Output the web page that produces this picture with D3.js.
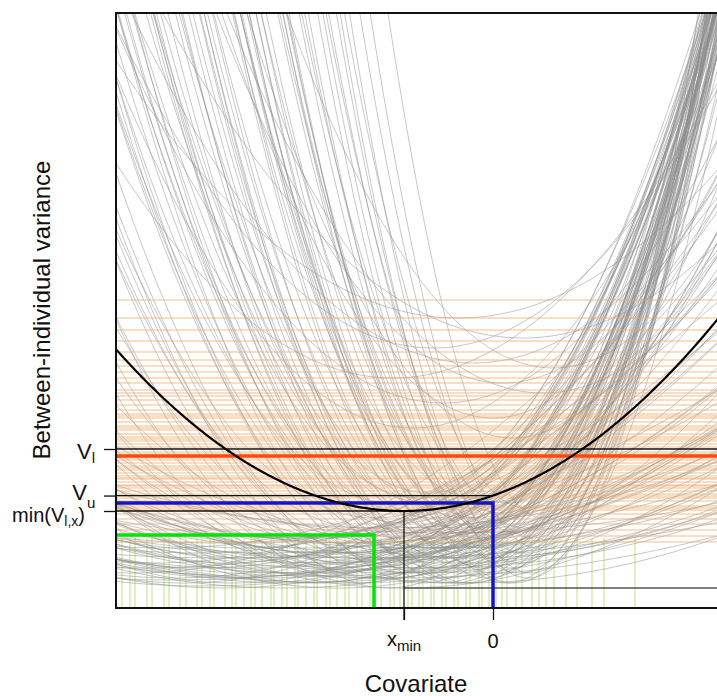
<!DOCTYPE html>
<html>
<head>
<meta charset="utf-8">
<script src="https://cdn.jsdelivr.net/npm/d3@7"></script>
<style>
  html, body { margin: 0; padding: 0; background: #fff; }
  svg { display: block; font-family: "Liberation Sans", Arial, sans-serif; }
</style>
</head>
<body>
<svg id="chart" width="717" height="696"></svg>
<script>
// ---- Data -------------------------------------------------------------
// Posterior draws of the variance function V(x) = vmin + k * (x - xvertex)^2,
// stored as [xvertex, vmin, k].
const broadDraws = [
  [-1.10, 0.25, 0.50], [-0.95, 0.40, 0.55], [-1.20, 0.10, 0.48], [-0.80, 0.55, 0.60],
  [-0.70, 0.30, 0.62], [-0.85, 0.15, 0.58], [-0.60, 0.70, 0.68], [-0.55, 0.20, 0.70],
  [-0.50, 0.45, 0.74], [-0.40, 0.05, 0.78], [-0.35, 0.60, 0.82], [-0.30, 0.35, 0.86],
  [-0.25, 0.80, 0.90], [-0.20, 0.25, 0.95], [-0.15, 0.50, 1.00], [-0.05, 0.10, 1.05],
  [0.00, 0.65, 1.10], [0.05, 0.30, 1.18], [0.12, 0.45, 1.25], [0.18, 0.20, 1.35],
  [0.25, 0.55, 1.45], [0.30, 0.35, 1.55], [0.38, 0.15, 1.70], [0.45, 0.40, 1.90],
  [-1.35, 0.05, 0.45], [-1.50, 0.20, 0.40], [-1.00, 0.85, 0.52], [-0.65, 0.95, 0.64],
  [-0.45, 0.10, 0.72], [-0.28, 0.70, 0.80], [-0.10, 0.40, 0.92], [0.08, 0.75, 1.02],
  [0.20, 0.05, 1.12], [0.32, 0.60, 1.30], [-0.75, 0.35, 0.56], [-0.58, 0.50, 0.66],
  [-0.90, 0.65, 0.54], [-0.38, 0.25, 0.84], [-0.18, 0.90, 0.88], [0.02, 0.15, 0.98],
  [-1.25, 0.45, 0.46], [-0.68, 0.15, 0.66], [-0.48, 0.80, 0.70], [-0.22, 0.05, 0.80],
  [0.10, 0.50, 1.08], [0.28, 0.25, 1.40], [0.50, 0.70, 2.10], [-1.05, 0.00, 0.50],
  [-0.82, 0.75, 0.58], [-0.33, 0.15, 0.76], [-0.12, 0.60, 0.94], [0.15, 0.85, 1.15],
  [-0.62, 0.40, 0.60], [-0.42, 0.55, 0.78], [0.35, 0.10, 1.60], [-0.05, 0.30, 1.06],
  [-1.40, 0.35, 0.42], [-0.72, 0.05, 0.62], [-0.26, 0.45, 0.98], [0.22, 0.35, 1.22],
  [-1.15, 0.30, 0.47], [-0.88, 0.20, 0.57], [-0.78, 0.60, 0.61], [-0.52, 0.05, 0.69],
  [-0.36, 0.40, 0.81], [-0.08, 0.20, 1.00], [0.06, 0.55, 1.15], [0.26, 0.15, 1.38],
  [-1.30, 0.60, 0.44], [-0.98, 0.10, 0.52], [-0.66, 0.85, 0.62], [-0.44, 0.30, 0.76],
  [-0.16, 0.70, 0.90], [0.14, 0.05, 1.20], [0.40, 0.50, 1.75], [-1.60, 0.15, 0.38],
  [-0.92, 0.50, 0.53], [-0.58, 0.25, 0.68], [-0.30, 0.05, 0.85], [0.00, 0.40, 1.04],
  [-0.74, 0.90, 0.60], [-0.20, 0.55, 0.96], [0.33, 0.80, 1.50], [-1.18, 0.70, 0.43],
  [-0.05, 0.85, 0.95]
];
const leftDraws = [
  [-3.20, 0.10, 0.10], [-2.90, 0.20, 0.12], [-2.60, 0.05, 0.14], [-2.40, 0.30, 0.10],
  [-2.20, 0.15, 0.16], [-2.00, 0.25, 0.13], [-1.80, 0.05, 0.20], [-1.70, 0.35, 0.15],
  [-1.60, 0.20, 0.22], [-1.50, 0.45, 0.18], [-3.00, 0.35, 0.08], [-2.70, 0.00, 0.09],
  [-2.50, 0.40, 0.12], [-2.30, 0.10, 0.07], [-2.10, 0.50, 0.11], [-1.90, 0.30, 0.10],
  [-1.40, 0.10, 0.26], [-1.30, 0.55, 0.21], [-1.20, 0.25, 0.28], [-3.40, 0.25, 0.09],
  [-2.80, 0.45, 0.06], [-2.45, 0.20, 0.05], [-2.05, 0.05, 0.08], [-1.85, 0.40, 0.07],
  [-1.55, 0.00, 0.12], [-1.25, 0.35, 0.10], [-1.10, 0.15, 0.16], [-3.10, 0.05, 0.13],
  [-2.65, 0.25, 0.15], [-2.35, 0.45, 0.17], [-1.95, 0.15, 0.21], [-1.65, 0.50, 0.24],
  [-3.60, 0.15, 0.11], [-3.30, 0.40, 0.08], [-1.00, 0.30, 0.30]
];
const flatDraws = [
  [-1.50, 0.05, 0.05], [-1.00, 0.10, 0.04], [-0.60, 0.20, 0.06], [-2.00, 0.15, 0.08],
  [-1.20, 0.30, 0.03], [-0.30, 0.05, 0.07], [-0.80, 0.40, 0.05], [-1.70, 0.25, 0.09],
  [-2.30, 0.35, 0.06], [-0.50, 0.55, 0.04], [-1.40, 0.45, 0.07], [-0.90, 0.00, 0.10],
  [-1.90, 0.50, 0.05], [-0.20, 0.30, 0.08], [-2.60, 0.10, 0.10], [-1.10, 0.60, 0.06],
  [-0.70, 0.15, 0.12], [-1.60, 0.35, 0.11], [-2.10, 0.00, 0.07], [-0.40, 0.40, 0.09],
  [-3.20, 0.08, 0.04], [-2.90, 0.02, 0.06], [-2.40, 0.12, 0.05], [-1.80, 0.06, 0.06],
  [-1.30, 0.18, 0.05], [-0.95, 0.28, 0.07], [-3.50, 0.20, 0.05], [-2.70, 0.30, 0.03],
  [-2.20, 0.22, 0.09], [-1.75, 0.12, 0.04]
];
const highDraws = [
  [-0.20, 2.25, 0.30], [0.10, 2.05, 0.45], [-0.50, 1.85, 0.35], [0.30, 2.50, 0.25],
  [-0.80, 1.60, 0.40], [0.00, 1.70, 0.55], [-0.35, 2.70, 0.22], [0.50, 1.95, 0.38],
  [-1.00, 2.10, 0.28], [0.20, 1.50, 0.60], [-0.60, 2.40, 0.32], [0.60, 2.20, 0.50]
];

// Per-draw lower variance estimates (horizontal lines)
const drawLevels = [
  2.88, 2.70, 2.58, 2.47, 2.36, 2.28, 2.22, 2.16, 2.10, 2.05, 1.98, 1.95, 1.92, 1.88,
  1.83, 1.78, 1.74, 1.72, 1.70, 1.66, 1.62, 1.60, 1.58, 1.54, 1.51, 1.49, 1.47, 1.44,
  1.41, 1.36, 1.34, 1.30, 1.28, 1.25, 1.22, 1.20, 1.18, 1.15, 1.12, 1.10, 1.09, 1.06,
  1.03, 1.02, 1.00, 0.97, 0.94, 0.92, 0.90, 0.87, 0.82, 0.80, 0.78, 0.74, 0.69, 0.64,
  0.58, 0.52, 0.46
];

// Per-draw covariate locations of the minimum (vertical rug lines)
const drawMinima = [
  -3.71, -3.63, -3.58, -3.46, -3.41, -3.29, -3.24, -3.13, -3.07, -2.96, -2.91, -2.83,
  -2.79, -2.68, -2.61, -2.57, -2.49, -2.42, -2.38, -2.31, -2.22, -2.19, -2.11, -2.06,
  -1.98, -1.95, -1.87, -1.79, -1.76, -1.67, -1.63, -1.56, -1.48, -1.44, -1.36, -1.31,
  -1.23, -1.18, -1.12, -1.03, -0.99, -0.93, -0.85, -0.81, -0.74, -0.70, -0.62, -0.59,
  -0.51, -0.47, -0.39, -0.35, -0.27, -0.23, -0.14, -0.11, -0.04, 0.03, 0.09, 0.14,
  0.23, 0.29, 0.39, 0.46, 0.53, 0.61, 0.73, 0.84, 0.99, 1.11, 1.42
];

// Posterior mean variance function
const meanCurve = { xvertex: -0.89, vmin: 0.77, k: 0.195 };
const levelV_l = 1.39;       // V_l
const levelMeanLower = 1.32; // mean of per-draw lower estimates
const levelBlue = 0.85;
const levelGreen = 0.53;
const xGreen = -1.19;

const xTickLabels = ["x", "0"];

// ---- Layout -------------------------------------------------------------
const svg = d3.select("#chart");
const plot = { left: 116, top: 13, right: 743, bottom: 608 };
const x = d3.scaleLinear().domain([-3.77, 2.5]).range([plot.left, plot.right]);
const y = d3.scaleLinear().domain([-0.2, 5.75]).range([plot.bottom, plot.top]);

svg.append("defs").append("clipPath").attr("id", "plotClip")
  .append("rect")
  .attr("x", plot.left).attr("y", plot.top)
  .attr("width", plot.right - plot.left).attr("height", plot.bottom - plot.top);

const g = svg.append("g").attr("clip-path", "url(#plotClip)");

const parab = (p) => (xv) => p[1] + p[2] * (xv - p[0]) ** 2;
const xs = d3.range(-3.77, 2.52, 0.01);
const line = d3.line().x(d => x(d[0])).y(d => y(d[1]));

// Rug of minimum locations
g.append("g").selectAll("line").data(drawMinima).join("line")
  .attr("x1", d => x(d)).attr("x2", d => x(d))
  .attr("y1", y(-0.2)).attr("y2", y(0.5))
  .attr("stroke", "#bedf7c").attr("stroke-opacity", 0.6).attr("stroke-width", 1.6);

// Posterior draws of the variance function
const allDraws = broadDraws.concat(leftDraws, flatDraws, highDraws);
g.append("g").selectAll("path").data(allDraws).join("path")
  .attr("d", p => line(xs.map(v => [v, Math.min(parab(p)(v), 7)])))
  .attr("fill", "none")
  .attr("stroke", "#8c8c8c").attr("stroke-opacity", 0.55).attr("stroke-width", 0.9);

// Per-draw lower estimates
g.append("g").selectAll("line").data(drawLevels).join("line")
  .attr("x1", plot.left).attr("x2", plot.right)
  .attr("y1", d => y(d)).attr("y2", d => y(d))
  .attr("stroke", "#f0a868").attr("stroke-opacity", 0.38).attr("stroke-width", 1.8);

// Zero line to the right of the minimum
const meanF = parab([meanCurve.xvertex, meanCurve.vmin, meanCurve.k]);
g.append("line")
  .attr("x1", x(meanCurve.xvertex)).attr("x2", plot.right)
  .attr("y1", y(0)).attr("y2", y(0))
  .attr("stroke", "#555").attr("stroke-width", 1.3);

// Green reference
g.append("path")
  .attr("d", line([[-3.77, levelGreen], [xGreen, levelGreen], [xGreen, -0.2]]))
  .attr("fill", "none").attr("stroke", "#00e600").attr("stroke-width", 3.5);

// Mean lower level and V_l
g.append("line")
  .attr("x1", plot.left).attr("x2", plot.right)
  .attr("y1", y(levelMeanLower)).attr("y2", y(levelMeanLower))
  .attr("stroke", "#ff4a0a").attr("stroke-width", 3.5);
g.append("line")
  .attr("x1", plot.left).attr("x2", plot.right)
  .attr("y1", y(levelV_l)).attr("y2", y(levelV_l))
  .attr("stroke", "#111").attr("stroke-width", 1.3);

// Blue reference at covariate 0
g.append("path")
  .attr("d", line([[-3.77, levelBlue], [0, levelBlue], [0, -0.2]]))
  .attr("fill", "none").attr("stroke", "#1414c0").attr("stroke-width", 3.5);

// V_u : mean curve at covariate 0
const vU = meanF(0);
g.append("line")
  .attr("x1", plot.left).attr("x2", x(0))
  .attr("y1", y(vU)).attr("y2", y(vU))
  .attr("stroke", "#111").attr("stroke-width", 1.3);

// Minimum of the mean curve
g.append("line")
  .attr("x1", plot.left).attr("x2", x(meanCurve.xvertex))
  .attr("y1", y(meanCurve.vmin)).attr("y2", y(meanCurve.vmin))
  .attr("stroke", "#111").attr("stroke-width", 1.3);
svg.append("line")
  .attr("x1", x(meanCurve.xvertex)).attr("x2", x(meanCurve.xvertex))
  .attr("y1", y(meanCurve.vmin)).attr("y2", plot.bottom + 12)
  .attr("stroke", "#111").attr("stroke-width", 1.3);

// Mean variance function
g.append("path")
  .attr("d", line(xs.map(v => [v, meanF(v)])))
  .attr("fill", "none").attr("stroke", "#000").attr("stroke-width", 2.2);

// Frame
svg.append("rect")
  .attr("x", plot.left).attr("y", plot.top)
  .attr("width", plot.right - plot.left).attr("height", plot.bottom - plot.top)
  .attr("fill", "none").attr("stroke", "#111").attr("stroke-width", 2);

// ---- Axes -------------------------------------------------------------
const xAxis = d3.axisBottom(x).tickValues([meanCurve.xvertex, 0]).tickSize(12).tickFormat("");
svg.append("g").attr("transform", `translate(0,${plot.bottom})`).call(xAxis)
  .call(a => a.select(".domain").remove())
  .call(a => a.selectAll("line").attr("stroke", "#111").attr("stroke-width", 1.3));

const yAxis = d3.axisLeft(y).tickValues([levelV_l, vU, meanCurve.vmin]).tickSize(12).tickFormat("");
svg.append("g").attr("transform", `translate(${plot.left},0)`).call(yAxis)
  .call(a => a.select(".domain").remove())
  .call(a => a.selectAll("line").attr("stroke", "#111").attr("stroke-width", 1.3));

// Tick labels (with sub-scripts)
const tl = svg.append("g").attr("fill", "#111");
function subLabel(px, py, main, sub, size, subSize, dy, anchor) {
  const t = tl.append("text").attr("x", px).attr("y", py)
    .attr("font-size", size).attr("text-anchor", anchor || "end");
  t.append("tspan").text(main);
  t.append("tspan").attr("font-size", subSize).attr("dy", dy).text(sub);
  return t;
}
subLabel(95, y(levelV_l) + 10, "V", "l", 22, 15, 4);

// V_u: main letter and subscript set separately so the subscript sits
// just right of the min(...) label below it
tl.append("text").attr("x", 87).attr("y", y(vU) + 4.5)
  .attr("font-size", 22).attr("text-anchor", "end").text("V");
tl.append("text").attr("x", 87).attr("y", y(vU) + 12)
  .attr("font-size", 15).attr("text-anchor", "start").text("u");

(function () {
  const t = tl.append("text").attr("x", 85).attr("y", y(meanCurve.vmin) + 11)
    .attr("font-size", 20).attr("text-anchor", "end");
  t.append("tspan").text("min(V");
  t.append("tspan").attr("font-size", 14).attr("dy", 4).text("l,x");
  t.append("tspan").attr("dy", -4).text(")");
})();

subLabel(x(meanCurve.xvertex) - 17, 646, xTickLabels[0], "min", 20, 15, 5, "start");
tl.append("text").attr("x", x(0)).attr("y", 648).attr("font-size", 20)
  .attr("text-anchor", "middle").text(xTickLabels[1]);

// Axis titles
svg.append("text").attr("x", 416).attr("y", 692).attr("font-size", 24)
  .attr("text-anchor", "middle").attr("fill", "#111").text("Covariate");
svg.append("text").attr("transform", "translate(50,310) rotate(-90)")
  .attr("font-size", 24).attr("text-anchor", "middle").attr("fill", "#111")
  .text("Between-individual variance");
</script>
</body>
</html>
